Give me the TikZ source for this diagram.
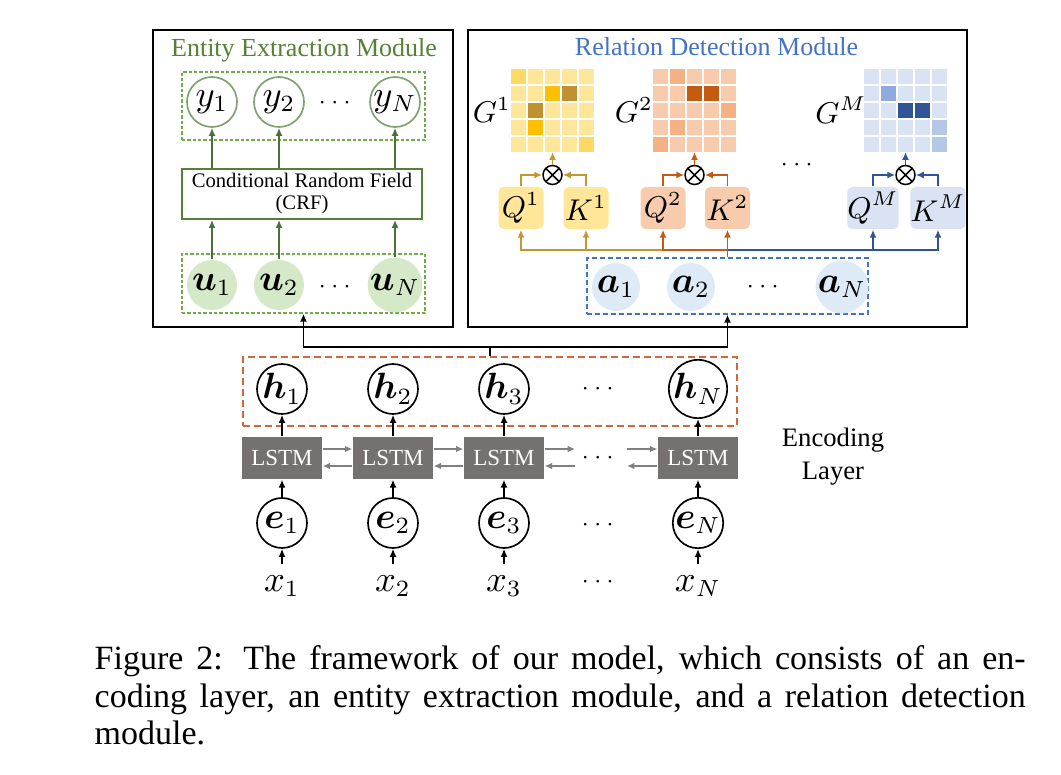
\documentclass[tikz,border=0pt]{standalone}
\usepackage{amsmath}
\usepackage{bm}
\usepackage{fontspec}
\setmainfont{Liberation Serif}
\usetikzlibrary{arrows.meta,positioning,calc}
\definecolor{eemgreen}{RGB}{84,130,53}
\definecolor{eemdash}{RGB}{112,173,71}
\definecolor{eemarrow}{RGB}{78,110,58}
\definecolor{ufill}{RGB}{213,232,200}
\definecolor{yring}{RGB}{128,160,112}
\definecolor{rdmblue}{RGB}{68,114,196}
\definecolor{afill}{RGB}{222,235,247}
\definecolor{hdash}{RGB}{208,105,58}
\definecolor{lstmgray}{RGB}{118,113,113}
\definecolor{lstmarrow}{RGB}{128,128,128}
\definecolor{yl}{RGB}{255,230,153}
\definecolor{ym}{RGB}{255,217,102}
\definecolor{yb}{RGB}{255,192,0}
\definecolor{yd}{RGB}{191,146,47}
\definecolor{ol}{RGB}{248,203,173}
\definecolor{om}{RGB}{244,177,131}
\definecolor{od}{RGB}{197,90,17}
\definecolor{bl}{RGB}{218,227,243}
\definecolor{bm}{RGB}{143,170,220}
\definecolor{bn}{RGB}{180,199,231}
\definecolor{bd}{RGB}{47,85,151}
\definecolor{col1}{RGB}{194,153,48}
\definecolor{col2}{RGB}{197,90,17}
\definecolor{col3}{RGB}{47,85,151}
\newcommand{\relmap}[2]{%
  \foreach \cc [count=\n from 0] in {#2} {
    \pgfmathtruncatemacro{\hrow}{\n/5}
    \pgfmathtruncatemacro{\hcol}{mod(\n,5)}
    \fill[\cc] ({#1+17*\hcol},{69+17*\hrow}) rectangle ++(15,15);
  }%
}
\begin{document}
\begin{tikzpicture}[x=0.3pt,y=-0.3pt,
  arr/.style={-{Latex[length=2.4pt,width=2.1pt]},line width=0.55pt},
  garr/.style={-{Latex[length=2.2pt,width=2pt]},line width=0.5pt,lstmarrow},
  labfont/.style={font=\fontsize{10.6}{12}\selectfont},
  dotfont/.style={font=\fontsize{7.5}{9}\selectfont},
  qkfont/.style={font=\fontsize{9.2}{11}\selectfont},
  hcirc/.style={circle,draw,line width=0.5pt,fill=white,minimum size=15pt,inner sep=0pt,labfont},
  ucirc/.style={circle,fill=ufill,minimum size=15pt,inner sep=0pt,labfont},
  ycirc/.style={circle,draw=yring,line width=0.5pt,fill=white,minimum size=15pt,inner sep=0pt,labfont},
  acirc/.style={circle,fill=afill,minimum size=14.4pt,inner sep=0pt,labfont},
  lstmbox/.style={fill=lstmgray,text=white,minimum width=24pt,minimum height=12.6pt,inner sep=0pt,font=\fontsize{6.9}{8}\selectfont},
  qkbox/.style={rounded corners=1.5pt,minimum width=13.5pt,minimum height=12.6pt,inner sep=0pt,qkfont},
  otnode/.style={circle,draw,line width=0.45pt,minimum size=5.7pt,inner sep=0pt,
    path picture={\draw[line width=0.45pt] (path picture bounding box.north west) -- (path picture bounding box.south east)
      (path picture bounding box.south west) -- (path picture bounding box.north east);}},
  modbox/.style={draw,line width=0.6pt,minimum height=89.1pt,inner sep=0pt},
  titlefont/.style={font=\fontsize{7.8}{9}\selectfont}
]
\useasboundingbox (0,0) rectangle (1061,775);
%Encoding layer
\node[draw=hdash,dashed,dash pattern=on 2.1pt off 1.2pt,line width=0.6pt,minimum width=148.2pt,minimum height=20.7pt] (hbox) at (490,391.5) {};
\foreach \x/\i in {282/1,393/2,504/3,698/N} {
  \node[labfont,anchor=base] (x\i) at (\x,591) {$x_{\i}$};
  \node[hcirc] (e\i) at (\x,523) {$\bm{e}_{\i}$};
  \node[lstmbox] (l\i) at (\x,458) {LSTM};
  \node[hcirc] (h\i) at (\x,389) {$\bm{h}_{\i}$};
  \draw[arr] (x\i) -- (e\i);
  \draw[arr] (e\i) -- (l\i);
  \draw[arr] (l\i) -- (h\i);
}
\node[dotfont] (hdots) at (600,389) {$\cdots$};
\node[dotfont] (ldots) at (600,458) {$\cdots$};
\node[dotfont] (edots) at (600,525) {$\cdots$};
\node[dotfont] (xdots) at (600,582) {$\cdots$};
\foreach \a/\b in {1/2,2/3} {
  \draw[garr] ([yshift=2.7pt]l\a.east) -- ([yshift=2.7pt]l\b.west);
  \draw[garr] ([yshift=-2.4pt]l\b.west) -- ([yshift=-2.4pt]l\a.east);
}
\coordinate (r3) at (575,458);
\coordinate (sN) at (627,458);
\draw[garr] ([yshift=2.7pt]l3.east) -- ([yshift=2.7pt]r3);
\draw[garr] ([yshift=-2.4pt]r3) -- ([yshift=-2.4pt]l3.east);
\draw[garr] ([yshift=2.7pt]sN) -- ([yshift=2.7pt]lN.west);
\draw[garr] ([yshift=-2.4pt]lN.west) -- ([yshift=-2.4pt]sN);
\node[align=center,font=\fontsize{8}{9.9}\selectfont] (enclab) at (833,457) {Encoding\\Layer};
%Entity extraction module
\node[modbox,minimum width=90pt] (eem) at (303,178.5) {};
\node[titlefont,text=eemgreen,anchor=base] (eemtitle) at (304,57) {Entity Extraction Module};
\node[draw=eemdash,dash pattern=on 1pt off 0.6pt,line width=0.4pt,minimum width=72.9pt,minimum height=20.4pt] (ybox) at (303.5,106) {};
\node[draw=eemdash,dash pattern=on 1pt off 0.6pt,line width=0.4pt,minimum width=72.9pt,minimum height=17.7pt] (ubox) at (303.5,283.5) {};
\node[draw=eemgreen,line width=0.55pt,minimum width=72pt,minimum height=15pt,inner sep=0pt,align=center,font=\fontsize{6.2}{6.6}\selectfont] (crf) at (302,194) {Conditional Random Field\\(CRF)};
\foreach \x/\i in {212/1,279/2,395/N} {
  \node[ucirc] (u\i) at (\x,285) {$\bm{u}_{\i}$};
  \node[ycirc] (y\i) at (\x,102) {$y_{\i}$};
  \draw[arr,eemarrow] (u\i) -- (u\i |- crf.south);
  \draw[arr,eemarrow] (y\i |- crf.north) -- (y\i);
}
\node[dotfont] (udots) at (337,287) {$\cdots$};
\node[dotfont] (ydots) at (337,103) {$\cdots$};
%Relation detection module
\node[modbox,minimum width=149.7pt] (rdm) at (717.5,178.5) {};
\node[titlefont,text=rdmblue,anchor=base] (rdmtitle) at (716.5,56) {Relation Detection Module};
\node[draw=rdmblue,dash pattern=on 1.5pt off 0.9pt,line width=0.4pt,minimum width=84.3pt,minimum height=16.8pt] (abox) at (727.5,286) {};
\foreach \x/\i in {616/1,691/2,842/N} {
  \node[acirc] (a\i) at (\x,287) {$\bm{a}_{\i}$};
}
\node[dotfont] (adots) at (765,287) {$\cdots$};
\relmap{511}{ym,yl,yl,yl,yl, yl,yl,yb,yd,yl, yl,yd,yl,yl,yl, yl,yb,yl,yl,yl, yl,yl,yl,yl,ym}
\relmap{653}{ol,om,ol,ol,ol, ol,ol,od,od,ol, ol,ol,ol,ol,om, ol,om,ol,ol,ol, om,ol,ol,ol,ol}
\relmap{864}{bl,bl,bl,bl,bl, bl,bm,bl,bl,bl, bl,bl,bd,bd,bl, bl,bl,bl,bl,bn, bl,bl,bl,bl,bn}
\coordinate (g1) at (552.5,152);
\coordinate (g2) at (694.5,152);
\coordinate (gM) at (905.5,152);
\node[qkfont] (G1lab) at (492,110) {$G^1$};
\node[qkfont] (G2lab) at (634,110) {$G^2$};
\node[qkfont] (GMlab) at (841,110) {$G^M$};
\node[dotfont] (gdots) at (799,165) {$\cdots$};
\foreach \k/\qx/\kx/\ox/\c/\f in {1/521/586/552.5/col1/yl, 2/663/727.5/694.5/col2/ol, M/873/938/905.5/col3/bl} {
  \node[qkbox,fill=\f] (q\k) at (\qx,208) {$Q^{\k}$};
  \node[qkbox,fill=\f] (k\k) at (\kx,208) {$K^{\k}$};
  \node[otnode] (ot\k) at (\ox,175) {};
  \draw[arr,\c,line width=0.5pt] (q\k) |- (ot\k);
  \draw[arr,\c,line width=0.5pt] (k\k) |- (ot\k);
  \draw[arr,\c,line width=0.5pt] (ot\k) -- (g\k);
}
\coordinate (bus) at (727.5,250);
\draw[arr,col1] (q2 |- bus) -| (q1);
\draw[arr,col1] (k1 |- bus) -- (k1);
\draw[arr,col2] (abox.north) -- (k2);
\draw[arr,col2] (bus) -| (q2);
\draw[arr,col3] (bus) -| (qM);
\draw[arr,col3] (qM |- bus) -| (kM);
%Encoding layer to modules
\coordinate (join) at (490,347);
\draw[line width=0.55pt] (hbox.north) -- (join);
\draw[arr] (join) -| (ubox.south);
\draw[arr] (join) -| (abox.south);
%Caption
\node[anchor=north west,text width=279.3pt,align=justify,inner sep=0pt,font=\fontsize{10.2}{11.25}\selectfont] (caption) at (94,645)
  {Figure 2: The framework of our model, which consists of an en-\linebreak coding layer, an entity extraction module, and a relation detection\linebreak module.};
\end{tikzpicture}
\end{document}
